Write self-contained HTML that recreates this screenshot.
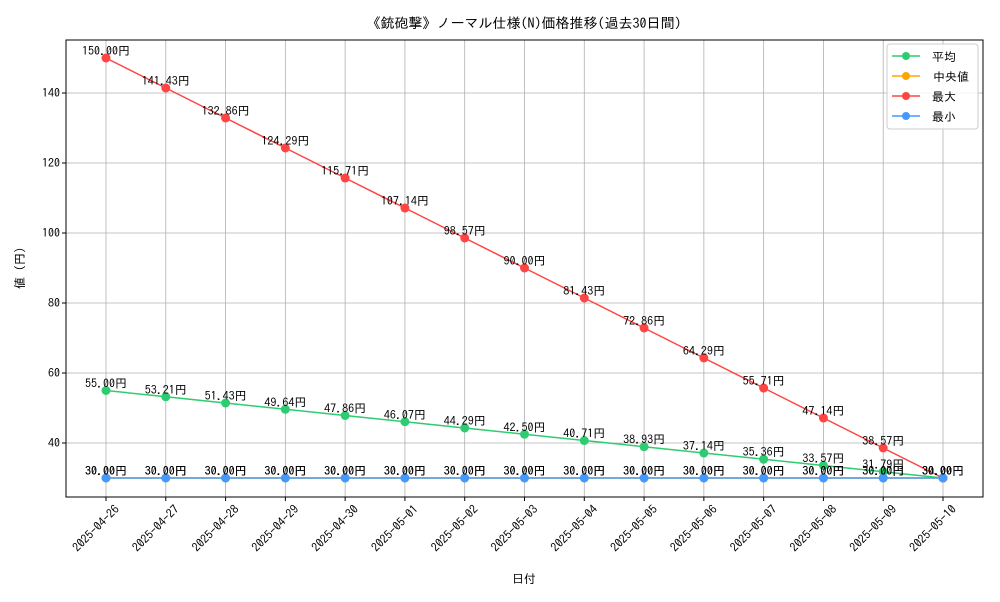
<!DOCTYPE html>
<html><head><meta charset="utf-8"><style>
body{margin:0;background:#fff;font-family:"IPAGothic","Liberation Sans","Noto Sans CJK JP",sans-serif;}
svg text{font-family:"IPAGothic","Liberation Sans","Noto Sans CJK JP",sans-serif;}
</style></head><body>
<svg id="chart" width="1000" height="600" xmlns="http://www.w3.org/2000/svg">
<text x="524" y="28" text-anchor="middle" font-size="14">《銃砲撃》ノーマル仕様(N)価格推移(過去30日間)</text>
<text x="524" y="583" text-anchor="middle" font-size="12">日付</text>
<text transform="translate(24,268) rotate(-90)" text-anchor="middle" font-size="12">値 (円)</text>
<g id="grid"></g><g id="marks"></g><g id="labels"></g>
<rect x="66" y="40" width="917" height="457" fill="none" stroke="#000" stroke-width="1"/>
<g>
<rect x="887" y="44" width="91" height="85" fill="#fff" fill-opacity="0.85" stroke="#ccc" rx="3"/>
<g><line x1="892" y1="56" x2="920" y2="56" stroke="#2ecc71" stroke-width="1.5"/><circle cx="906" cy="56" r="4" fill="#2ecc71"/><text x="932" y="61" font-size="12">平均</text></g>
<g><line x1="892" y1="76" x2="920" y2="76" stroke="#ffa500" stroke-width="1.5"/><circle cx="906" cy="76" r="4" fill="#ffa500"/><text x="933" y="81" font-size="12">中央値</text></g>
<g><line x1="892" y1="96" x2="920" y2="96" stroke="#ff4444" stroke-width="1.5"/><circle cx="906" cy="96" r="4" fill="#ff4444"/><text x="932" y="101" font-size="12">最大</text></g>
<g><line x1="892" y1="116" x2="920" y2="116" stroke="#4499ff" stroke-width="1.5"/><circle cx="906" cy="116" r="4" fill="#4499ff"/><text x="932" y="121" font-size="12">最小</text></g>
</g>
</svg>
<script>
const dates=["2025-04-26","2025-04-27","2025-04-28","2025-04-29","2025-04-30","2025-05-01","2025-05-02","2025-05-03","2025-05-04","2025-05-05","2025-05-06","2025-05-07","2025-05-08","2025-05-09","2025-05-10"];
const meanVals=[55.00,53.21,51.43,49.64,47.86,46.07,44.29,42.50,40.71,38.93,37.14,35.36,33.57,31.79,30.00];
const medianVals=[30,30,30,30,30,30,30,30,30,30,30,30,30,30,30];
const maxVals=[150.00,141.43,132.86,124.29,115.71,107.14,98.57,90.00,81.43,72.86,64.29,55.71,47.14,38.57,30.00];
const minVals=[30,30,30,30,30,30,30,30,30,30,30,30,30,30,30];
const yTicks=[40,60,80,100,120,140];
const NS="http://www.w3.org/2000/svg";
const X=i=>106+i*(943-106)/14;
const Y=v=>443-(v-40)*3.5;
function mk(tag,attrs,parent){const e=document.createElementNS(NS,tag);for(const k in attrs)e.setAttribute(k,attrs[k]);parent.appendChild(e);return e;}
const grid=document.getElementById('grid'),marks=document.getElementById('marks'),labels=document.getElementById('labels');
yTicks.forEach(t=>{
 const l=mk('line',{x1:66,x2:983,y1:Y(t),y2:Y(t),stroke:'#b0b0b0','stroke-width':0.8},grid);
 
 
 const tx=mk('text',{x:60,y:Y(t)+4,'text-anchor':'end','font-size':12},grid);
 tx.textContent=t;
 
 
 mk('line',{x1:62,x2:66,y1:Y(t),y2:Y(t),stroke:'#000'},grid);
});
dates.forEach((d,i)=>{
 const l=mk('line',{x1:X(i),x2:X(i),y1:40,y2:497,stroke:'#b0b0b0','stroke-width':0.8},grid);
 
 
 mk('line',{x1:X(i),x2:X(i),y1:497,y2:501,stroke:'#000'},grid);
 const tx=mk('text',{transform:`translate(${X(i)+14},${510}) rotate(-45)`,'text-anchor':'end','font-size':12},grid);
 tx.textContent=d;
 
 
});
const series=[["mean",meanVals,"#2ecc71"],["median",medianVals,"#ffa500"],["max",maxVals,"#ff4444"],["min",minVals,"#4499ff"]];
series.forEach(([name,vals,col])=>{
 const p=mk('polyline',{points:vals.map((v,i)=>X(i)+','+Y(v)).join(' '),fill:'none',stroke:col,'stroke-width':1.5},marks);
 
 
 vals.forEach((v,i)=>{
  const c=mk('circle',{cx:X(i),cy:Y(v),r:4.5,fill:col},marks);
  
  
  const t=mk('text',{x:X(i),y:Y(v)-3,'text-anchor':'middle','font-size':12},labels);
  t.textContent=v.toFixed(2)+'円';
  
  
 });
});
</script>
</body></html>
